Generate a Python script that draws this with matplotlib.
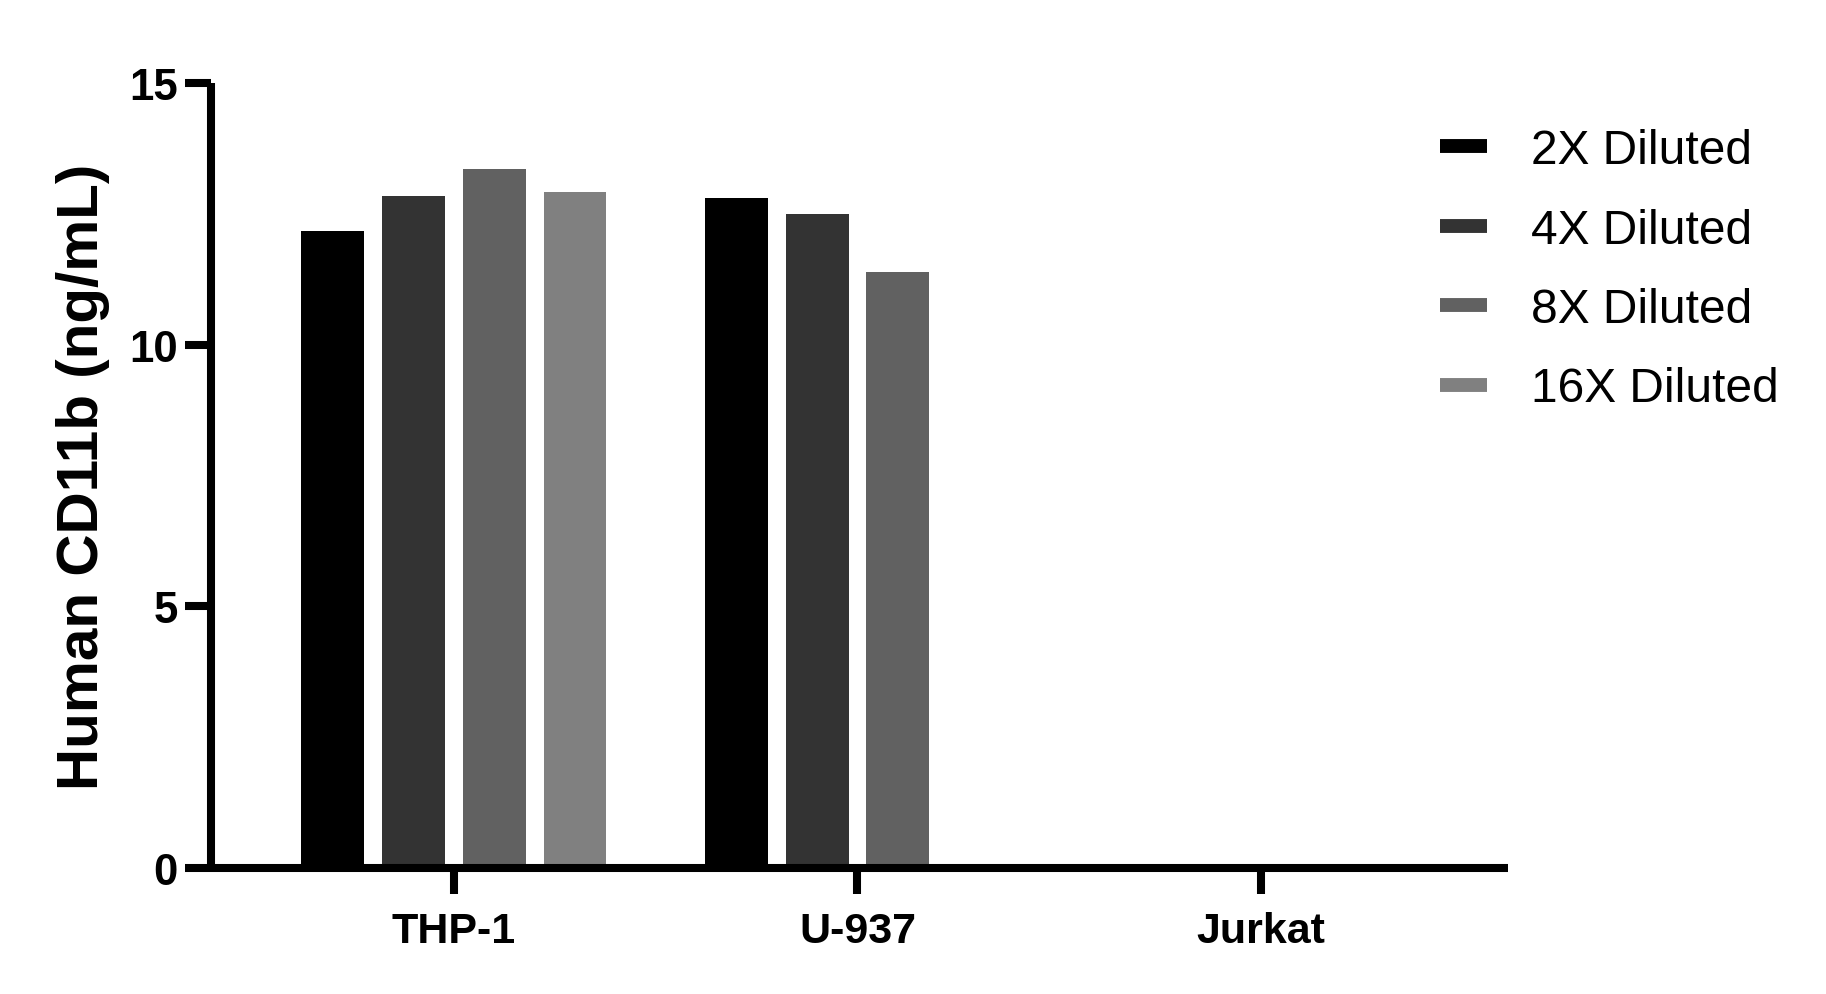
import numpy as np
import matplotlib
matplotlib.use("Agg")
import matplotlib.pyplot as plt
from matplotlib.lines import Line2D

categories = ["THP-1", "U-937", "Jurkat"]
series_names = ["2X Diluted", "4X Diluted", "8X Diluted", "16X Diluted"]
values_2x = [12.17, 12.80, 0.0]
values_4x = [12.84, 12.50, 0.0]
values_8x = [13.36, 11.39, 0.0]
values_16x = [12.92, 0.0, 0.0]
colors = ["#000000", "#333333", "#616161", "#808080"]
y_ticks = [0, 5, 10, 15]

plt.rcParams['font.family'] = ['Liberation Sans', 'DejaVu Sans']

fig = plt.figure(figsize=(18.26, 9.95), dpi=100)
ax = fig.add_axes([211/1826, 1 - 869/995, (1508-211)/1826, (869-84)/995])

x = np.arange(len(categories))
series = [values_2x, values_4x, values_8x, values_16x]
offsets = [-0.3, -0.1, 0.1, 0.3]
width = 0.156
for vals, off, col in zip(series, offsets, colors):
    ax.bar(x + off, vals, width=width, color=col, linewidth=0)

ax.set_xlim(-0.602, 2.612)
ax.set_ylim(0, 15)
ax.set_yticks(y_ticks)
ax.set_xticks(x)
ax.set_xticklabels(categories)

for s in ["top", "right"]:
    ax.spines[s].set_visible(False)
for s in ["left", "bottom"]:
    ax.spines[s].set_linewidth(5.8)
    ax.spines[s].set_capstyle('butt')

ax.tick_params(axis='both', length=19, width=5.8, direction='out', color='black')
ax.tick_params(axis='y', pad=5, labelsize=31.5)
ax.tick_params(axis='x', pad=12, labelsize=31)
for lab in ax.get_xticklabels() + ax.get_yticklabels():
    lab.set_fontweight('bold')

ax.set_ylabel("Human CD11b (ng/mL)", fontsize=42, fontweight='bold')
ax.yaxis.set_label_coords(-0.078, 0.5)

handles = [Line2D([0], [0], color=c, linewidth=10, solid_capstyle='butt') for c in colors]
leg = fig.legend(handles, series_names, loc='upper left',
                 bbox_to_anchor=(1440/1826, 1 - 129/995), frameon=False,
                 fontsize=34.5, handlelength=0.98, handletextpad=0.92,
                 labelspacing=0.72, borderaxespad=0, borderpad=0)

fig.savefig("out.png", dpi=100)
